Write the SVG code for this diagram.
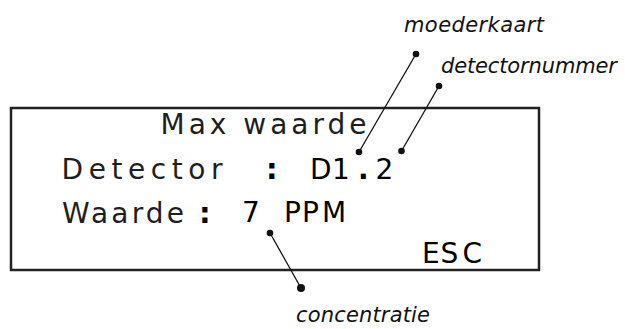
<svg xmlns="http://www.w3.org/2000/svg" width="625" height="329" viewBox="0 0 625 329">
<style>
.lcd{font-family:"DejaVu Sans","Bitstream Vera Sans",sans-serif;font-size:28px;fill:#1e1e1e}
.val{fill:#000}
.col{font-family:"DejaVu Sans",sans-serif;font-size:29px;font-weight:bold;fill:#000}
.lbl{font-family:"DejaVu Sans",sans-serif;font-size:21px;font-style:italic;fill:#111}
.lead{stroke:#111;stroke-width:1.3;fill:none}
.dot{fill:#111}
</style>
<rect width="625" height="329" fill="#fff"/>
<g id="display">
<rect x="11" y="108" width="528" height="162" fill="none" stroke="#222" stroke-width="2.5"/>
<text class="lcd" x="160.5" y="134" textLength="206" lengthAdjust="spacing">Max waarde</text>
<text class="lcd" x="61.5" y="179" textLength="161" lengthAdjust="spacing">Detector</text>
<text class="col" x="266" y="179">:</text>
<text class="lcd val" x="310 332 358 375.5" y="179">D1<tspan font-weight="bold">.</tspan>2</text>
<text class="lcd" x="62" y="223" textLength="122" lengthAdjust="spacing">Waarde</text>
<text class="col" x="199" y="223">:</text>
<text class="lcd val" x="242 262 284 302 322" y="222">7 PPM</text>
<text class="lcd val" x="422 440.5 462.5" y="263">ESC</text>
</g>
<g id="label-moederkaart">
<text class="lbl" x="404" y="32" textLength="140" lengthAdjust="spacing">moederkaart</text>
</g>
<g id="label-detectornummer">
<text class="lbl" x="441" y="73" textLength="176" lengthAdjust="spacing">detectornummer</text>
</g>
<g id="label-concentratie">
<text class="lbl" x="296" y="322" textLength="134" lengthAdjust="spacing">concentratie</text>
</g>
<g id="connectors">
<line class="lead" x1="416" y1="54" x2="359" y2="152"/>
<circle class="dot" cx="416" cy="54" r="3.3"/>
<circle class="dot" cx="359" cy="152" r="3.3"/>
<line class="lead" x1="439" y1="86" x2="401.5" y2="151"/>
<circle class="dot" cx="439" cy="86" r="3.3"/>
<circle class="dot" cx="401.5" cy="151" r="3.3"/>
<line class="lead" x1="270" y1="233" x2="301" y2="288"/>
<circle class="dot" cx="270" cy="233" r="3.3"/>
<circle class="dot" cx="301" cy="288" r="4"/>
</g>
</svg>
